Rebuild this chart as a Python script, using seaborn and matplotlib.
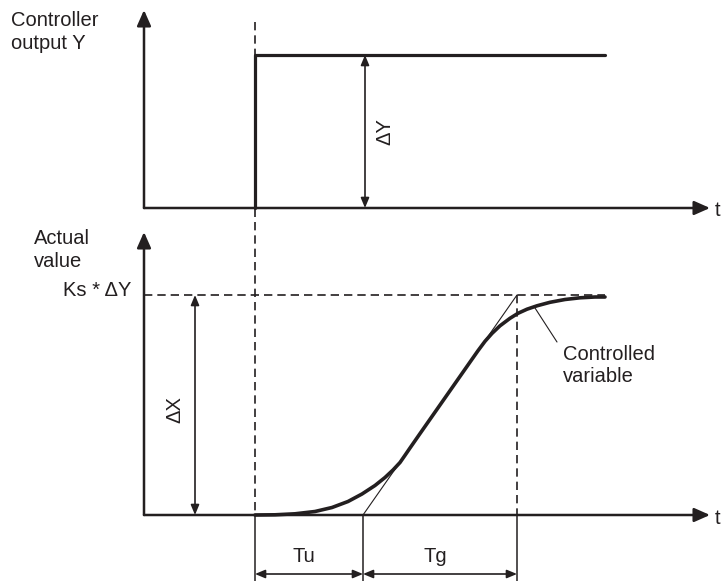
import seaborn as sns
import matplotlib.pyplot as plt

sns.set_theme(style="white")
plt.rcParams['font.family'] = ['Liberation Sans', 'DejaVu Sans']

INK = '#231f20'

# diagram positions (pixel-like units, y grows downward)
t_axis = 144
t_end = 710
t_step = 255
t_tu = 363
t_tg = 517
t_hold = 605

y_top_base = 208
y_top_step = 55
y_top_tip = 10
y_bot_base = 515
y_bot_tip = 232
y_ks = 295

# controller output step
step_t = [t_step, t_step, t_hold]
step_y = [y_top_base, y_top_step, y_top_step]

# controlled variable
curve_t = [255, 275, 295, 315, 332, 348, 362, 375, 385, 393, 400, 405, 410,
           420, 440, 460, 470, 478, 485, 492, 500, 510, 518, 527, 537, 550,
           565, 580, 595, 605]
curve_x = [515, 514.8, 513.8, 511.5, 507.5, 501.5, 494, 485.5, 477.5, 470,
           462.5, 455.3, 448, 433.6, 405, 376.4, 362.1, 350.7, 341.3, 333.4,
           325.8, 318.3, 313.3, 309.2, 305.8, 302.3, 299.5, 297.8, 297, 297]

# tangent through the inflection point
tangent_t = [t_tu, t_tg]
tangent_x = [y_bot_base, y_ks]

fig = plt.figure(figsize=(7.21, 5.81), dpi=100)
ax = fig.add_axes([0, 0, 1, 1])
ax.set_xlim(0, 721)
ax.set_ylim(581, 0)
ax.axis('off')


def arrow(x0, y0, x1, y1, style, lw=1.5):
    ax.annotate('', xy=(x1, y1), xytext=(x0, y0),
                arrowprops=dict(arrowstyle=style, color=INK, lw=lw,
                                shrinkA=0, shrinkB=0, mutation_scale=10))


axis_head = '-|>,head_length=0.95,head_width=0.42'
dim_head = '<|-|>,head_length=0.6,head_width=0.25'

# axes
arrow(t_axis, y_top_base, t_axis, y_top_tip, axis_head, 1.8)
arrow(t_axis, y_top_base, t_end, y_top_base, axis_head, 1.8)
arrow(t_axis, y_bot_base, t_axis, y_bot_tip, axis_head, 1.8)
arrow(t_axis, y_bot_base, t_end, y_bot_base, axis_head, 1.8)

# dashed guides
dash = dict(color=INK, lw=1.2, dashes=(5, 3))
ax.plot([t_step, t_step], [22, y_bot_base], **dash)
ax.plot([t_axis, t_hold], [y_ks, y_ks], **dash)
ax.plot([t_tg, t_tg], [y_ks, y_bot_base], **dash)

# solid dimension ticks below the axis
for tx in [t_step, t_tu, t_tg]:
    ax.plot([tx, tx], [y_bot_base, 581], color=INK, lw=1.1)

# step and curve
sns.lineplot(x=step_t, y=step_y, sort=False, estimator=None, color=INK,
             lw=2.3, ax=ax)
sns.lineplot(x=tangent_t, y=tangent_x, sort=False, estimator=None, color=INK,
             lw=0.8, ax=ax)
sns.lineplot(x=curve_t, y=curve_x, sort=False, estimator=None, color=INK,
             lw=2.6, ax=ax)
ax.plot([535, 557], [308, 342], color=INK, lw=0.8)

# dimension arrows
arrow(365, y_top_step, 365, y_top_base, dim_head, 1.2)
arrow(195, y_ks, 195, y_bot_base, dim_head, 1.2)
arrow(t_step, 574, t_tu, 574, dim_head, 1.2)
arrow(t_tu, 574, t_tg, 574, dim_head, 1.2)

fs = 14.5
ax.text(11, 32, 'Controller\noutput Y', fontsize=fs, color=INK, va='center',
        linespacing=1.25, ha='left')
ax.text(34, 250, 'Actual\nvalue', fontsize=fs, color=INK, va='center',
        linespacing=1.25, ha='left')
ax.text(131, 291, 'Ks * ΔY', fontsize=fs, color=INK, va='center', ha='right')
ax.text(385, 132, 'ΔY', fontsize=fs, color=INK, va='center', ha='center',
        rotation=90)
ax.text(175, 410, 'ΔX', fontsize=fs, color=INK, va='center', ha='center',
        rotation=90)
ax.text(304, 556, 'Tu', fontsize=fs, color=INK, va='center', ha='center')
ax.text(435, 556, 'Tg', fontsize=fs, color=INK, va='center', ha='center')
ax.text(563, 365, 'Controlled\nvariable', fontsize=fs, color=INK, va='center',
        ha='left', linespacing=1.2)
ax.text(715, 210, 't', fontsize=fs, color=INK, va='center', ha='left')
ax.text(715, 518, 't', fontsize=fs, color=INK, va='center', ha='left')

fig.savefig('out.png', dpi=100, facecolor='white')
